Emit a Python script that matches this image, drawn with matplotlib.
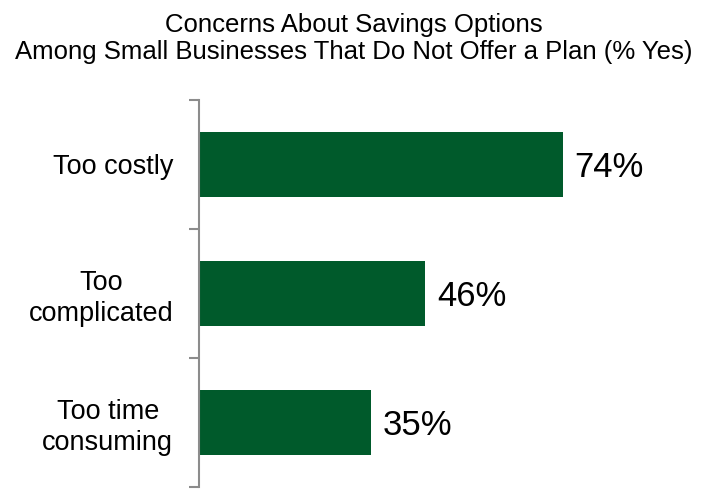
import matplotlib.pyplot as plt

plt.rcParams['font.family'] = ['Liberation Sans', 'DejaVu Sans']

# survey answers, top to bottom
concerns = ["Too costly", "Too\ncomplicated", "Too time\nconsuming"]
pct_yes = [74, 46, 35]

bar_color = "#005a2b"
axis_gray = "#8c8c8c"

fig = plt.figure(figsize=(7.08, 4.94), dpi=100)
ax = fig.add_axes([0.281, 0.0142, 0.719, 0.7834])

pos = list(range(len(concerns)))
ax.barh(pos, pct_yes, height=0.5, color=bar_color)

for p, v in zip(pos, pct_yes):
    ax.text(v + 2.4, p + 0.02, f"{v}%", va="center", ha="left", fontsize=25, color="black")

ax.set_xlim(0, 103.5)
ax.set_ylim(len(concerns) - 0.5, -0.5)

# boundary ticks between categories, labels sit on minor ticks
ax.set_yticks([i - 0.5 for i in range(len(concerns) + 1)])
ax.set_yticklabels([])
ax.set_yticks(pos, minor=True)
ax.set_yticklabels(concerns, minor=True, fontsize=19.5, multialignment="center",
                   linespacing=1.25)
ax.tick_params(axis="y", which="major", length=7, width=1.5, color=axis_gray, direction="out")
ax.tick_params(axis="y", which="minor", length=0, pad=18.5)
ax.set_xticks([])

for s in ["top", "right", "bottom"]:
    ax.spines[s].set_visible(False)
ax.spines["left"].set_color(axis_gray)
ax.spines["left"].set_linewidth(1.5)

fig.text(0.5, 0.973, "Concerns About Savings Options\nAmong Small Businesses That Do Not Offer a Plan (% Yes)",
         ha="center", va="top", fontsize=18.5, linespacing=1.15)

fig.savefig("out.png", dpi=100)
